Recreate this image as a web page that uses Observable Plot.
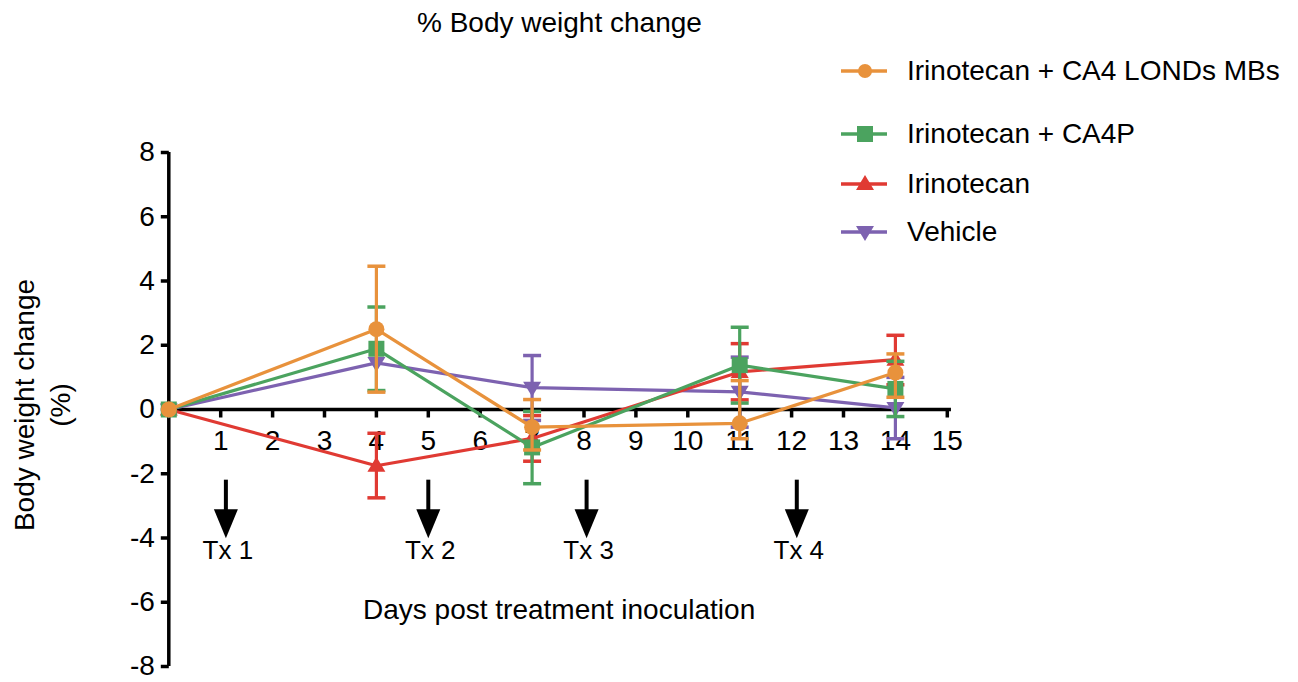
<!DOCTYPE html>
<html><head><meta charset="utf-8">
<script src="https://cdn.jsdelivr.net/npm/d3@7"></script>
<script src="https://cdn.jsdelivr.net/npm/@observablehq/plot@0.6"></script>
<style>
body{margin:0;background:#fff;font-family:"Liberation Sans",Arial,Helvetica,sans-serif;}
#wrap{position:relative;width:1298px;height:682px;overflow:hidden;background:#fff;}
#wrap svg.plot{position:absolute;left:0;top:0;}
.abs{position:absolute;white-space:nowrap;color:#000;font-size:28px;line-height:28px;}
</style></head><body><div id="wrap"></div>
<script>
// ---- data ----
const days = [0, 4, 7, 11, 14];
const seriesNames = ["Irinotecan + CA4 LONDs MBs", "Irinotecan + CA4P", "Irinotecan", "Vehicle"];
const seriesColors = ["#E8923C", "#4BA35F", "#E03A33", "#7D62B0"];
const londsMean = [0, 2.5, -0.55, -0.43, 1.15];
const londsLow  = [0, 0.54, -1.26, -0.91, 0.38];
const londsHigh = [0, 4.46, 0.31, 0.9, 1.73];
const ca4pMean = [0, 1.89, -1.18, 1.38, 0.64];
const ca4pLow  = [0, 0.59, -2.31, 0.2, -0.22];
const ca4pHigh = [0, 3.19, -0.06, 2.56, 1.5];
const iriMean = [0, -1.75, -0.9, 1.17, 1.55];
const iriLow  = [0, -2.75, -1.61, 0.3, 0.77];
const iriHigh = [0, -0.74, -0.19, 2.05, 2.31];
const vehMean = [0, 1.45, 0.68, 0.55, 0.05];
const vehLow  = [0, 1.45, -0.34, -0.55, -0.91];
const vehHigh = [0, 1.45, 1.68, 1.63, 1.0];
const xTicks = [1, 2, 3, 4, 5, 6, 7, 8, 9, 10, 11, 12, 13, 14, 15];
const yTicks = [-8, -6, -4, -2, 0, 2, 4, 6, 8];
const txDays = [1.1, 5, 8.05, 12.1];
const txLabels = ["Tx 1", "Tx 2", "Tx 3", "Tx 4"];
const titleText = "% Body weight change";
const xLabelText = "Days post treatment inoculation";
const yLabelLines = ["Body weight change", "(%)"];

// ---- symbols ----
const capSym = {draw(c){c.moveTo(-9,0);c.lineTo(9,0);}};
const yTickSym = {draw(c){c.moveTo(-8,0);c.lineTo(0,0);}};
const xTickSym = {draw(c){c.moveTo(0,0);c.lineTo(0,8);}};
const squareSym = {draw(c){c.rect(-8,-8,16,16);}};
const triUpSym = {draw(c){c.moveTo(0,-9);c.lineTo(9,6);c.lineTo(-9,6);c.closePath();}};
const triDownSym = {draw(c){c.moveTo(0,9);c.lineTo(9,-6);c.lineTo(-9,-6);c.closePath();}};
const arrowHeadSym = {draw(c){c.moveTo(-12,-14);c.lineTo(12,-14);c.lineTo(0,15);c.closePath();}};
const circleSym = {draw(c){c.moveTo(8,0);c.arc(0,0,8,0,2*Math.PI);}};

const seriesData = [
  {name: seriesNames[0], color: seriesColors[0], mean: londsMean, lo: londsLow, hi: londsHigh, sym: circleSym},
  {name: seriesNames[1], color: seriesColors[1], mean: ca4pMean, lo: ca4pLow, hi: ca4pHigh, sym: squareSym},
  {name: seriesNames[2], color: seriesColors[2], mean: iriMean, lo: iriLow, hi: iriHigh, sym: triUpSym},
  {name: seriesNames[3], color: seriesColors[3], mean: vehMean, lo: vehLow, hi: vehHigh, sym: triDownSym}
];
const rowsOf = s => days.map((d, i) => ({day: d, mean: s.mean[i], lo: s.lo[i], hi: s.hi[i]}));

const marks = [];
// axes
marks.push(Plot.ruleY([0], {x1: 0, x2: 15.08, stroke: "#000", strokeWidth: 3.5}));
marks.push(Plot.dot(xTicks, {x: d => d, y: 0, symbol: xTickSym, stroke: "#000", strokeWidth: 3.5, fill: "none"}));
marks.push(Plot.text(xTicks, {x: d => d, y: 0, text: d => String(d), dy: 32, fontSize: 28, fill: "#000"}));
marks.push(Plot.ruleX([0], {y1: -8, y2: 8, stroke: "#000", strokeWidth: 3.5}));
marks.push(Plot.dot(yTicks, {x: 0, y: d => d, symbol: yTickSym, stroke: "#000", strokeWidth: 3.5, fill: "none"}));
marks.push(Plot.text(yTicks, {x: 0, y: d => d, text: d => String(d), dx: -14, textAnchor: "end", fontSize: 28, fill: "#000"}));
// treatment arrows
marks.push(Plot.ruleX(txDays, {x: d => d, y1: -2.2, y2: -3.3, stroke: "#000", strokeWidth: 4}));
marks.push(Plot.dot(txDays, {x: d => d, y: -3.54, symbol: arrowHeadSym, fill: "#000", stroke: "none"}));
marks.push(Plot.text(txDays, {x: d => d, y: -4.39, text: (d, i) => txLabels[i], dx: 2, fontSize: 26, fill: "#000"}));
// series, drawn bottom to top: Vehicle, Irinotecan, CA4P, LONDs
for (const s of [seriesData[3], seriesData[2], seriesData[1], seriesData[0]]) {
  const rows = rowsOf(s);
  const err = rows.filter(r => r.hi > r.lo);
  marks.push(Plot.line(rows, {x: "day", y: "mean", stroke: s.color, strokeWidth: 3.2}));
  marks.push(Plot.ruleX(err, {x: "day", y1: "lo", y2: "hi", stroke: s.color, strokeWidth: 3.2}));
  marks.push(Plot.dot(err, {x: "day", y: "lo", symbol: capSym, stroke: s.color, strokeWidth: 3.5, fill: "none"}));
  marks.push(Plot.dot(err, {x: "day", y: "hi", symbol: capSym, stroke: s.color, strokeWidth: 3.5, fill: "none"}));
  marks.push(Plot.dot(rows, {x: "day", y: "mean", symbol: s.sym, fill: s.color, stroke: "none"}));
}

const chart = Plot.plot({
  width: 1298, height: 682,
  marginLeft: 168.3, marginRight: 351.2, marginTop: 152, marginBottom: 16,
  x: {domain: [0, 15], axis: null},
  y: {domain: [-8, 8], axis: null},
  style: {fontFamily: '"Liberation Sans", Arial, sans-serif', fontSize: "28px", background: "transparent", overflow: "visible"},
  marks
});
chart.classList.add("plot");
const wrap = document.getElementById("wrap");
wrap.appendChild(chart);

// title, axis labels
function addText(txt, css) {
  const d = document.createElement("div");
  d.className = "abs";
  d.textContent = txt;
  Object.assign(d.style, css);
  wrap.appendChild(d);
  return d;
}
const t = addText(titleText, {top: "9px"});
t.style.left = (559.5 - t.offsetWidth / 2) + "px";
const xl = addText(xLabelText, {top: "596px"});
xl.style.left = (559 - xl.offsetWidth / 2) + "px";
const yl = document.createElement("div");
yl.className = "abs";
Object.assign(yl.style, {width: "320px", left: (43 - 160) + "px", top: (405 - 36) + "px", lineHeight: "36px", textAlign: "center", transform: "rotate(-90deg)", whiteSpace: "normal"});
yl.innerHTML = yLabelLines.map(l => `<div>${l}</div>`).join("");
wrap.appendChild(yl);

// legend
const legendY = [71, 133.5, 183.5, 231.5];
seriesData.forEach((s, i) => {
  const y = legendY[i];
  const svg = d3.create("svg").attr("width", 52).attr("height", 30)
    .style("position", "absolute").style("left", "838px").style("top", (y - 15) + "px");
  svg.append("line").attr("x1", 3).attr("x2", 49).attr("y1", 15).attr("y2", 15)
    .attr("stroke", s.color).attr("stroke-width", 3.5);
  svg.append("path").attr("d", d3.symbol(s.sym === circleSym ? {draw(c){c.moveTo(7,0);c.arc(0,0,7,0,2*Math.PI);}} : s.sym)())
    .attr("transform", "translate(27,15)").attr("fill", s.color);
  wrap.appendChild(svg.node());
  addText(s.name, {left: "907px", top: (y - 14) + "px"});
});
</script>
</body></html>
